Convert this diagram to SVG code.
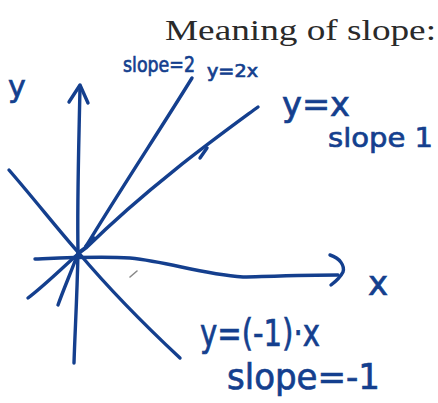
<svg xmlns="http://www.w3.org/2000/svg" width="438" height="403" viewBox="0 0 438 403">
<style>
.ink{fill:none;stroke:#143f8e;stroke-width:3.4;stroke-linecap:round;stroke-linejoin:round}
.hw{fill:#143f8e;stroke:#143f8e;stroke-width:0.7;font-family:"DejaVu Sans","Liberation Sans",sans-serif}
.title{fill:#2a2a2a;font-family:"Liberation Serif","DejaVu Serif",serif}
</style>
<rect width="438" height="403" fill="#ffffff"/>
<text class="title" x="165" y="40" font-size="29" textLength="271" lengthAdjust="spacingAndGlyphs">Meaning of slope:</text>
<g id="axes">
<path class="ink" d="M80 86 C79 140 77 200 78 252 C77 300 75 330 74 363"/>
<path class="ink" d="M69 102 L80 85 L88 103"/>
<path class="ink" d="M35 259 C60 258 100 256 130 258 C170 262 200 274 243 277 C280 276 310 275 338 275"/>
<path class="ink" d="M330 255 C340 258 345 266 343 272 C340 278 335 282 331 285"/>
</g>
<g id="lines">
<path class="ink" d="M192 78 C160 130 120 190 85 248 L78 253 C72 270 64 288 58 305"/>
<path class="ink" d="M258 107 C220 135 150 185 86 248 L78 254 C60 270 45 285 28 298"/>
<path class="ink" d="M9 170 C35 200 60 232 78 252 C110 290 150 330 180 358"/>
<path class="ink" d="M200 158 L207 148" stroke-width="2.4"/>
<path class="ink" d="M86 246 L94 238" stroke-width="2.4"/>
<path d="M130 277 L137 271" stroke="#888" stroke-width="1.6" stroke-linecap="round"/>
</g>
<g id="labels">
<text class="hw" x="123" y="72" font-size="21" textLength="72" lengthAdjust="spacingAndGlyphs">slope=2</text>
<text class="hw" x="8" y="97" font-size="30">y</text>
<text class="hw" x="207" y="77" font-size="17" textLength="51" lengthAdjust="spacingAndGlyphs">y=2x</text>
<text class="hw" x="282" y="116" font-size="33" textLength="68" lengthAdjust="spacingAndGlyphs">y=x</text>
<text class="hw" x="328" y="147" font-size="27" textLength="105" lengthAdjust="spacingAndGlyphs">slope 1</text>
<text class="hw" x="368" y="295" font-size="34">x</text>
<text class="hw" x="200" y="346" font-size="37" textLength="120" lengthAdjust="spacingAndGlyphs">y=(-1)·x</text>
<text class="hw" x="227" y="389" font-size="35" textLength="153" lengthAdjust="spacingAndGlyphs">slope=-1</text>
</g>
</svg>
